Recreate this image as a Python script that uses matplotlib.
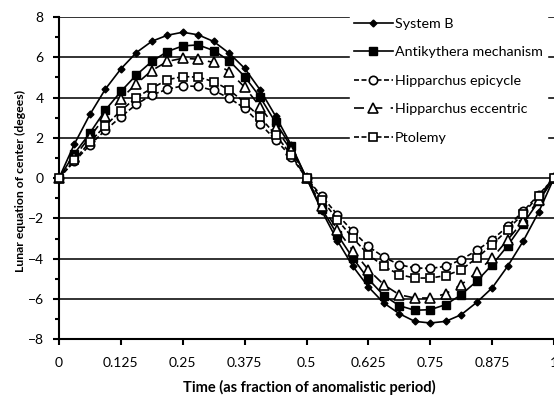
import numpy as np
import matplotlib
matplotlib.use("Agg")
import matplotlib.pyplot as plt
from matplotlib.ticker import MultipleLocator

plt.rcParams["font.family"] = ["Lato", "DejaVu Sans"]

# time as fraction of anomalistic period, 33 samples
t = np.arange(33) / 32.0

system_b = [0, 1.70, 3.16, 4.42, 5.42, 6.23, 6.79, 7.09, 7.24, 7.11, 6.78, 6.20, 5.45, 4.38, 3.08, 1.66,
            0, -1.65, -3.11, -4.38, -5.40, -6.20, -6.73, -7.11, -7.19, -7.11, -6.78, -6.17, -5.45, -4.38, -3.14, -1.70, 0]
antikythera = [0, 1.22, 2.24, 3.38, 4.30, 5.12, 5.79, 6.28, 6.56, 6.61, 6.33, 5.83, 5.04, 4.02, 2.76, 1.57,
               0, -1.54, -2.81, -3.97, -5.01, -5.83, -6.33, -6.56, -6.53, -6.28, -5.79, -5.12, -4.30, -3.36, -2.27, -1.16, 0]
hip_epicycle = [0, 0.83, 1.65, 2.38, 3.04, 3.66, 4.13, 4.41, 4.58, 4.55, 4.35, 3.97, 3.47, 2.69, 1.90, 1.07,
                0, -0.91, -1.82, -2.64, -3.39, -3.92, -4.30, -4.46, -4.48, -4.38, -4.05, -3.59, -3.06, -2.40, -1.65, -0.83, 0]
hip_eccentric = [0, 1.07, 2.05, 3.06, 3.94, 4.68, 5.34, 5.79, 5.95, 5.90, 5.74, 5.29, 4.51, 3.55, 2.48, 1.40,
                 0, -1.40, -2.56, -3.60, -4.55, -5.29, -5.79, -5.95, -5.95, -5.74, -5.29, -4.68, -3.97, -3.06, -2.15, -1.07, 0]
ptolemy = [0, 0.90, 1.80, 2.60, 3.35, 4.00, 4.46, 4.88, 5.04, 5.01, 4.79, 4.38, 3.75, 3.02, 2.15, 1.16,
           0, -1.07, -2.07, -2.98, -3.80, -4.38, -4.79, -4.96, -4.96, -4.84, -4.55, -3.97, -3.31, -2.56, -1.77, -0.88, 0]

xticks = [0, 0.125, 0.25, 0.375, 0.5, 0.625, 0.75, 0.875, 1]
xtick_labels = ["0", "0.125", "0.25", "0.375", "0.5", "0.625", "0.75", "0.875", "1"]

fig = plt.figure(figsize=(5.54, 3.98), dpi=100)
ax = fig.add_axes([0.1065, 0.1475, 0.8935, 0.81])

lw = 1.2
ax.plot(t, system_b, color="black", lw=lw, marker="D", ms=3.5, mfc="black",
        label="System B", clip_on=False, zorder=5)
ax.plot(t, antikythera, color="black", lw=lw, marker="s", ms=6, mfc="black",
        label="Antikythera mechanism", clip_on=False, zorder=5)
ax.plot(t, hip_epicycle, color="black", lw=lw, marker="o", ms=6, mfc="white", mew=1.2,
        dashes=(3, 1.5), label="Hipparchus epicycle", clip_on=False, zorder=5)
ax.plot(t, hip_eccentric, color="black", lw=lw, marker="^", ms=7, mfc="white", mew=1.2,
        dashes=(6, 5), label="Hipparchus eccentric", clip_on=False, zorder=5)
ax.plot(t, ptolemy, color="black", lw=lw, marker="s", ms=6, mfc="white", mew=1.2,
        dashes=(3, 1.5), label="Ptolemy", clip_on=False, zorder=5)

ax.set_xlim(0, 1)
ax.set_ylim(-8, 8)
ax.set_xticks(xticks)
ax.set_xticklabels(xtick_labels)
ax.yaxis.set_major_locator(MultipleLocator(2))
ax.yaxis.set_minor_locator(MultipleLocator(1))
ax.grid(axis="y", which="major", color="#222222", lw=1.3, zorder=1)
ax.set_axisbelow(True)

for s in ["top", "right"]:
    ax.spines[s].set_visible(False)
ax.spines["left"].set_linewidth(1.5)
ax.spines["bottom"].set_linewidth(1.5)
ax.tick_params(axis="both", which="major", direction="out", length=4, width=1.5, labelsize=10)
ax.tick_params(axis="x", which="major", pad=9)
ax.tick_params(axis="y", which="major", pad=7)
ax.tick_params(axis="y", which="minor", direction="out", length=3, width=1.5)

ax.set_xlabel("Time (as fraction of anomalistic period)", fontsize=10.5, fontweight="bold")
ax.set_ylabel("Lunar equation of center (degees)", fontsize=8.8, fontweight="bold")
ax.xaxis.set_label_coords(0.506, -0.126)
ax.yaxis.set_label_coords(-0.066, 0.49)

leg = ax.legend(loc="upper right", bbox_to_anchor=(1.0, 1.033), fontsize=10.3, frameon=True,
                fancybox=False, edgecolor="white", facecolor="white", framealpha=1,
                handlelength=2.7, labelspacing=1.15, borderpad=0.3, handletextpad=0.15, numpoints=1)
leg.set_zorder(10)

fig.savefig("out.png", dpi=100)
